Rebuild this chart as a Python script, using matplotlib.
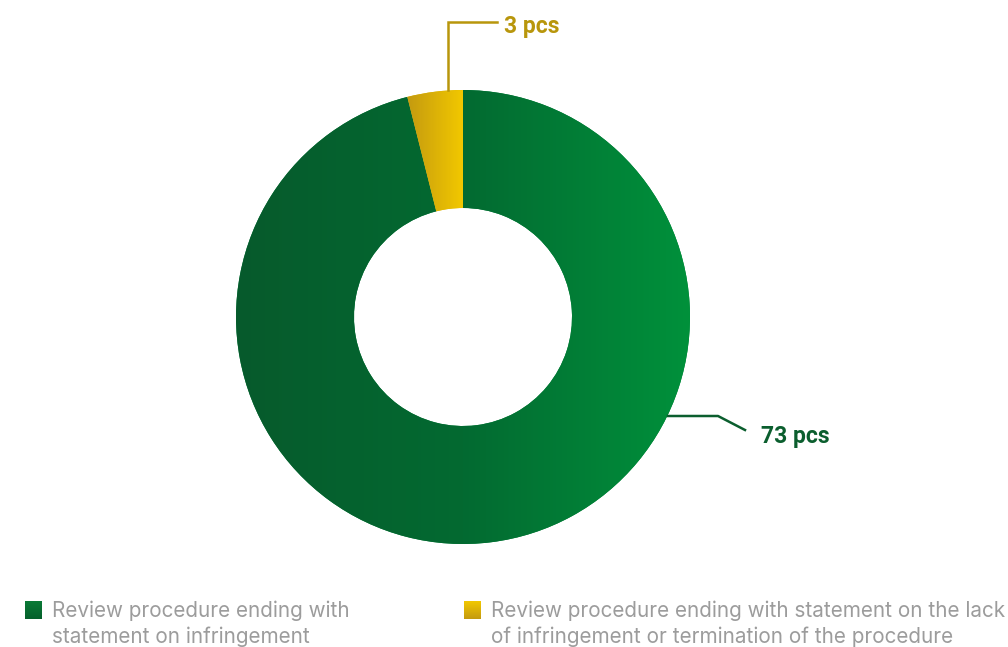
import matplotlib
matplotlib.use("Agg")
import matplotlib.pyplot as plt
import numpy as np
from matplotlib.colors import LinearSegmentedColormap

categories = ["Review procedure ending with\nstatement on infringement",
              "Review procedure ending with statement on the lack\nof infringement or termination of the procedure"]
values = [73, 3]
value_labels = ["73 pcs", "3 pcs"]

W, H = 1008, 647
fig = plt.figure(figsize=(W / 100, H / 100), dpi=100)
ax = fig.add_axes([0, 0, 1, 1])

cx, cy = 463, H - 317
R = 227
width = 118

wedges, _ = ax.pie(values, startangle=90, counterclock=False, radius=R,
                   center=(cx, cy), wedgeprops=dict(width=width, linewidth=0),
                   colors=["#00803a", "#e0b800"], frame=True)
ax.set_xlim(0, W)
ax.set_ylim(0, H)
ax.set_aspect("auto")
ax.axis("off")

green_cmap = LinearSegmentedColormap.from_list("g", ["#075a2c", "#036a31", "#00913b"])
yellow_cmap = LinearSegmentedColormap.from_list("y", ["#c49a10", "#f2c800"])
grad = np.linspace(0, 1, 256).reshape(1, -1)

im = ax.imshow(grad, cmap=green_cmap, extent=(cx - R, cx + R, cy - R, cy + R),
               aspect="auto", zorder=2, interpolation="bilinear")
im.set_clip_path(wedges[0])
ang = 360 * values[1] / sum(values)
x0 = cx - R * np.sin(np.radians(ang))
im2 = ax.imshow(grad, cmap=yellow_cmap, extent=(x0, cx, cy + R - width - 5, cy + R),
                aspect="auto", zorder=3, interpolation="bilinear")
im2.set_clip_path(wedges[1])
for w in wedges:
    w.set_zorder(1)

# leader lines and labels
gold = "#b8960c"
dgreen = "#0b5e2e"
ax.plot([448, 448, 497], [H - 90, H - 22, H - 22], color=gold, lw=1.8, zorder=4,
        solid_joinstyle="miter")
ax.text(504, H - 27, value_labels[1], color=gold, fontsize=16.5, fontfamily="Roboto",
        fontweight="bold", va="center", ha="left")
ax.plot([668, 718, 745], [H - 416, H - 416, H - 430], color=dgreen, lw=1.8, zorder=4)
ax.text(761, H - 436, value_labels[0], color=dgreen, fontsize=16.5, fontfamily="Roboto",
        fontweight="bold", va="center", ha="left")

# legend
sq_cols = [("#0a7a36", "#05602c"), ("#f2c800", "#c49a10")]
sq_x = [25, 464]
txt_x = [52, 491]
baselines = [617, 643]
for i in range(2):
    gsq = np.linspace(0, 1, 64).reshape(-1, 1)
    cm = LinearSegmentedColormap.from_list("s%d" % i, list(sq_cols[i]))
    ax.imshow(gsq, cmap=cm, extent=(sq_x[i], sq_x[i] + 17, H - 619, H - 601),
              aspect="auto", zorder=3)
    for j, line in enumerate(categories[i].split("\n")):
        ax.text(txt_x[i], H - baselines[j], line, color="#9c9c9c", fontsize=14.9,
                fontfamily="Inter", va="baseline", ha="left")

ax.set_xlim(0, W)
ax.set_ylim(0, H)
fig.savefig("out.png", dpi=100)
